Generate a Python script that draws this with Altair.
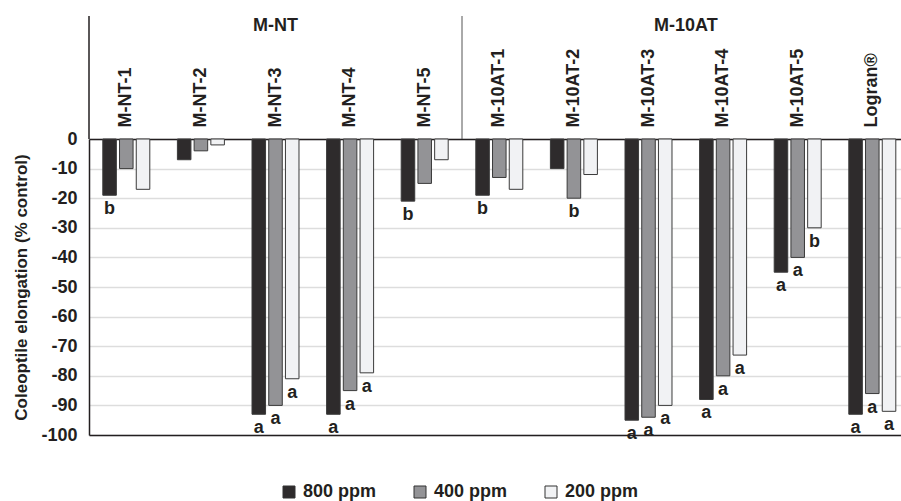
import altair as alt
import pandas as pd

# ---- data ----
groups_mnt = ["M-NT-1", "M-NT-2", "M-NT-3", "M-NT-4", "M-NT-5"]
groups_m10 = ["M-10AT-1", "M-10AT-2", "M-10AT-3", "M-10AT-4", "M-10AT-5", "Logran®"]
categories = groups_mnt + groups_m10
doses = ["800 ppm", "400 ppm", "200 ppm"]

v800 = [-19, -7, -93, -93, -21, -19, -10, -95, -88, -45, -93]
v400 = [-10, -4, -90, -85, -15, -13, -20, -94, -80, -40, -86]
v200 = [-17, -2, -81, -79, -7, -17, -12, -90, -73, -30, -92]

l800 = ["b", "", "a", "a", "b", "b", "", "a", "a", "a", "a"]
l400 = ["", "", "a", "a", "", "", "b", "a", "a", "a", "a"]
l200 = ["", "", "a", "a", "", "", "", "a", "a", "b", "a"]

group_titles = ["M-NT", "M-10AT"]
colors = ["#2e2b2c", "#939396", "#f1f2f4"]
y_ticks = [0, -10, -20, -30, -40, -50, -60, -70, -80, -90, -100]

rows = []
for vals, lets, d in [(v800, l800, doses[0]), (v400, l400, doses[1]), (v200, l200, doses[2])]:
    for c, v, l in zip(categories, vals, lets):
        rows.append({"cat": c, "dose": d, "value": v, "letter": l})
df = pd.DataFrame(rows)

# ---- layout ----
STEP = 74.6
W = 811
H = 296
HEADER = 123
FONT = "Liberation Sans"
INK = "#231f20"

xscale = alt.Scale(domain=categories, range=[0, STEP * len(categories)],
                   paddingInner=0.37, paddingOuter=0.185)
xoff = alt.XOffset("dose:N", scale=alt.Scale(domain=doses, paddingInner=0.19, paddingOuter=0))
yscale = alt.Scale(domain=[-100, 0], nice=False)
yaxis = alt.Axis(values=y_ticks, title="Coleoptile elongation (% control)",
                 labelExpr="datum.value < 0 ? '-' + abs(datum.value) : '' + datum.value",
                 labelOverlap=False,
                 grid=True, gridColor="#dddddd", gridWidth=1.5,
                 domainColor=INK, domainWidth=1.5, ticks=False, tickSize=0,
                 labelFont=FONT, labelFontSize=18, labelFontWeight="bold",
                 labelColor=INK, labelPadding=12,
                 titleFont=FONT, titleFontSize=17, titleFontWeight="bold",
                 titleColor=INK, titlePadding=10)

bars = alt.Chart(df).mark_bar(stroke="#3a3a3a", strokeWidth=1).encode(
    x=alt.X("cat:N", scale=xscale, sort=categories,
            axis=alt.Axis(orient="top", title=None, labelAngle=270, labelPadding=12,
                          ticks=False, domainColor=INK, domainWidth=1.5, grid=False,
                          labelFont=FONT, labelFontSize=18, labelFontWeight="bold",
                          labelColor=INK, labelAlign="left", labelBaseline="middle")),
    xOffset=xoff,
    y=alt.Y("value:Q", scale=yscale, axis=yaxis),
    color=alt.Color("dose:N", scale=alt.Scale(domain=doses, range=colors),
                    legend=alt.Legend(title=None, orient="none", direction="horizontal",
                                      legendX=191, legendY=344,
                                      symbolType="square", symbolSize=144,
                                      symbolStrokeColor="#333", symbolStrokeWidth=1,
                                      symbolOpacity=1,
                                      labelFont=FONT, labelFontSize=18,
                                      labelFontWeight="bold", labelColor=INK,
                                      columnPadding=34, labelOffset=5)),
)

letters = alt.Chart(df).transform_filter("datum.letter != ''").mark_text(
    font=FONT, fontSize=18, fontWeight="bold", color=INK, baseline="alphabetic", dy=19
).encode(
    x=alt.X("cat:N", scale=xscale, sort=categories,
            axis=alt.Axis(orient="bottom", title=None, labels=False, ticks=False,
                          domainColor=INK, domainWidth=1.5, grid=False)),
    xOffset=xoff,
    y=alt.Y("value:Q", scale=yscale, axis=yaxis),
    text="letter:N",
)

# header region: left frame line, divider, and group titles
n1 = len(groups_mnt)
n2 = len(groups_m10)
hdr = pd.DataFrame({"g": group_titles})
left_line = alt.Chart(hdr.head(1)).mark_rule(color=INK, strokeWidth=1.5).encode(
    x=alt.value(0), y=alt.value(-HEADER), y2=alt.value(0))
divider = alt.Chart(hdr.head(1)).mark_rule(color="#555", strokeWidth=1).encode(
    x=alt.value(STEP * n1), y=alt.value(-HEADER), y2=alt.value(0))
title1 = alt.Chart(hdr.head(1)).mark_text(
    font=FONT, fontSize=18, fontWeight="bold", color=INK, baseline="middle").encode(
    x=alt.value(STEP * n1 / 2), y=alt.value(-113), text="g:N")
title2 = alt.Chart(hdr.tail(1)).mark_text(
    font=FONT, fontSize=18, fontWeight="bold", color=INK, baseline="middle").encode(
    x=alt.value(STEP * (n1 + n2 / 2)), y=alt.value(-113), text="g:N")

chart = alt.layer(bars, letters, left_line, divider, title1, title2).resolve_axis(
    x="independent"
).properties(
    width=W, height=H,
    autosize=alt.AutoSizeParams(type="none"),
    padding={"left": 89, "top": 139, "right": 1, "bottom": 66},
    background="white",
).configure_view(stroke=None)

chart.save("out.html", embed_options={"renderer": "svg", "actions": False})
